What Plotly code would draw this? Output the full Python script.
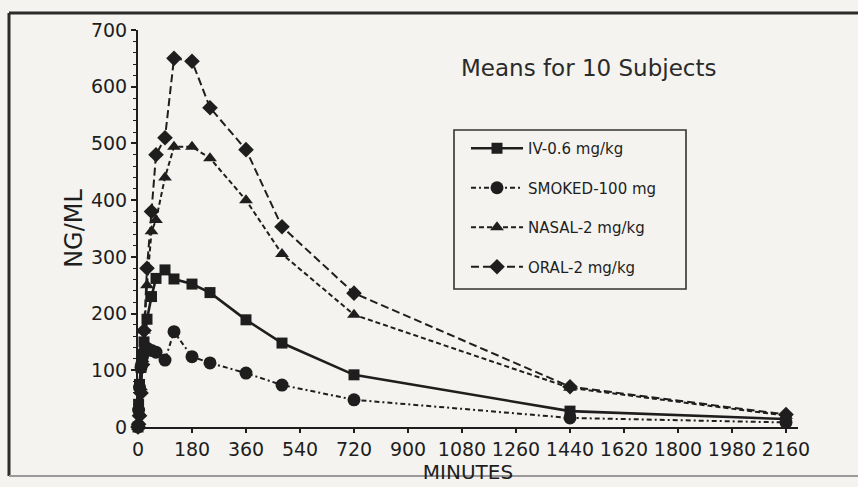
import plotly.graph_objects as go

# Sampling times (minutes after dose)
minutes = [0, 2, 5, 10, 15, 20, 30, 45, 60, 90, 120, 180, 240, 360, 480, 720, 1440, 2160]

# Mean plasma cocaine concentrations (ng/ml) by route
iv_06 = [0, 40, 75, 105, 125, 150, 190, 230, 262, 277, 261, 252, 237, 189, 148, 92, 28, 14]
smoked_100 = [0, 30, 70, 105, 124, 132, 139, 135, 132, 118, 168, 124, 113, 95, 74, 48, 16, 8]
nasal_2 = [0, 5, 25, 70, 120, 170, 250, 345, 365, 440, 494, 494, 474, 400, 305, 198, 69, 20]
oral_2 = [0, 5, 20, 60, 110, 170, 280, 380, 480, 510, 650, 645, 563, 489, 353, 236, 71, 22]

series_names = ["IV-0.6 mg/kg", "SMOKED-100 mg", "NASAL-2 mg/kg", "ORAL-2 mg/kg"]
x_ticks = [0, 180, 360, 540, 720, 900, 1080, 1260, 1440, 1620, 1800, 1980, 2160]
y_ticks = [0, 100, 200, 300, 400, 500, 600, 700]

INK = "#1e1e1e"
BG = "#f4f3ef"
FONT = "DejaVu Sans"

styles = [
    dict(dash="solid", width=2.6, symbol="square", size=11),
    dict(dash="5px,3px,2px,3px", width=2, symbol="circle", size=13),
    dict(dash="5px,3px", width=2, symbol="triangle-up", size=12),
    dict(dash="8px,4px", width=2, symbol="diamond", size=12),
]

fig = go.Figure()
for name, values, st in zip(series_names, [iv_06, smoked_100, nasal_2, oral_2], styles):
    fig.add_trace(go.Scatter(
        x=minutes, y=values, name=name, mode="lines+markers", legendgroup=name,
        line=dict(color=INK, width=st["width"], dash=st["dash"]),
        marker=dict(symbol=st["symbol"], size=st["size"], color=INK, line=dict(width=0)),
        cliponaxis=False,
    ))

# plot area in pixels: x 138..798, y 30..427
PL, PR, PT, PB = 138, 798, 30, 427
W, H = PR - PL, PB - PT
def px(x):
    return (x - PL) / W
def py(y):
    return (PB - y) / H

fig.update_layout(
    width=858, height=487,
    margin=dict(l=PL, r=858 - PR, t=PT, b=487 - PB),
    paper_bgcolor=BG, plot_bgcolor=BG,
    font=dict(family=FONT, color=INK),
    showlegend=True,
    legend=dict(
        x=px(466), y=py(132), xanchor="left", yanchor="top",
        bgcolor="rgba(0,0,0,0)", borderwidth=0,
        font=dict(size=15, family=FONT, color=INK),
        itemwidth=52, tracegroupgap=17,
    ),
    xaxis=dict(
        range=[0, 2200], tickvals=x_ticks, ticktext=[str(v) for v in x_ticks],
        showgrid=False, zeroline=False, showline=True, linecolor=INK, linewidth=2,
        ticks="outside", ticklen=4, tickwidth=1.5, tickcolor=INK,
        tickfont=dict(size=19, family=FONT, color=INK),
        title=dict(text="MINUTES", font=dict(size=20, family=FONT, color=INK), standoff=1),
    ),
    yaxis=dict(
        range=[0, 700], tickvals=y_ticks,
        showgrid=False, zeroline=False, showline=True, linecolor=INK, linewidth=2,
        ticks="outside", ticklen=5, tickwidth=1.5, tickcolor=INK,
        minor=dict(dtick=20, ticks="outside", ticklen=3, tickwidth=1, tickcolor=INK, showgrid=False),
        tickfont=dict(size=19, family=FONT, color=INK),
        title=dict(text="NG/ML", font=dict(size=24, family=FONT, color=INK), standoff=2),
    ),
    annotations=[dict(
        text="Means for 10 Subjects", x=px(588), y=py(68), xref="paper", yref="paper",
        showarrow=False, xanchor="center", yanchor="middle",
        font=dict(size=23, family=FONT, color="#2a2a2a"),
    )],
    shapes=[
        # outer frame
        dict(type="line", xref="paper", yref="paper", x0=px(9), x1=px(900), y0=py(13), y1=py(13),
             line=dict(color="#2b2b2b", width=3)),
        dict(type="line", xref="paper", yref="paper", x0=px(9), x1=px(9), y0=py(13), y1=py(476),
             line=dict(color="#2b2b2b", width=3)),
        dict(type="line", xref="paper", yref="paper", x0=px(9), x1=px(900), y0=py(476), y1=py(476),
             line=dict(color="#9a9a9a", width=2)),
        # legend box
        dict(type="rect", xref="paper", yref="paper", x0=px(454), x1=px(686), y0=py(289), y1=py(130),
             line=dict(color="#333", width=1.6)),
    ],
)

fig.write_html("out.html")
